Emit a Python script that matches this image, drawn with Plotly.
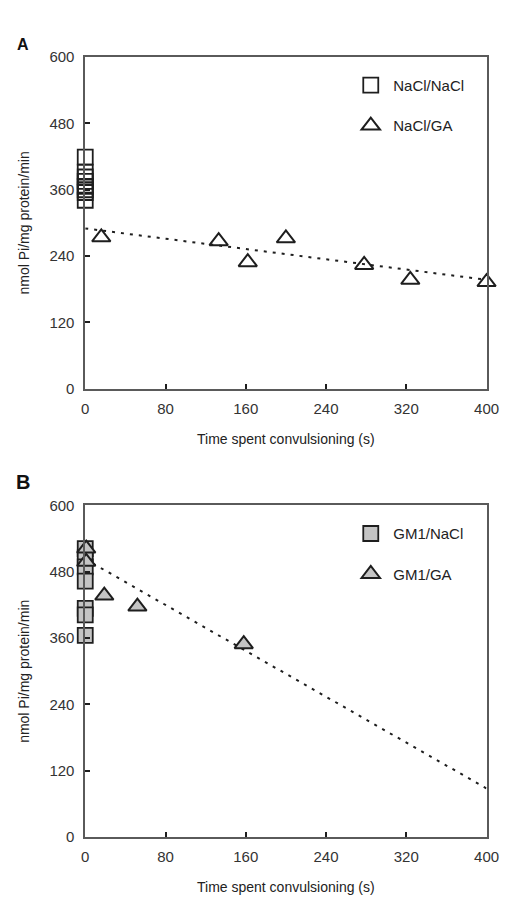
import plotly.graph_objects as go

# ---------------- data ----------------
x_ticks = [0, 80, 160, 240, 320, 400]
y_ticks = [0, 120, 240, 360, 480, 600]

# Panel A
a_nacl_x = [0, 0, 0, 0, 0, 0, 0, 0]
a_nacl_y = [419, 392, 383, 375, 366, 360, 355, 341]
a_ga_x = [16, 133, 162, 200, 278, 324, 400]
a_ga_y = [274, 267, 229, 272, 224, 197, 193]
a_fit_x = [0, 400]
a_fit_y = [290, 197]

# Panel B
b_nacl_x = [0, 0, 0, 0, 0, 0, 0]
b_nacl_y = [522, 505, 489, 463, 414, 402, 365]
b_ga_x = [1, 1, 19, 52, 158]
b_ga_y = [522, 498, 437, 417, 349]
b_fit_x = [0, 400]
b_fit_y = [503, 88]

x_title = "Time spent convulsioning (s)"
y_title = "nmol Pi/mg protein/min"

# ---------------- style ----------------
W, H = 516, 903
FONT = "Liberation Sans, Arial, sans-serif"
INK = "#1e1e1e"
AXC = "#5a5a5a"
GRAY = "#c4c4c4"
MS = 16

def px_x(p):
    return p / W

def px_y(p):
    return 1 - p / H

fig = go.Figure()

# Panel A traces
fig.add_trace(go.Scatter(x=a_fit_x, y=a_fit_y, mode="lines", showlegend=False,
                         line=dict(color=INK, width=2, dash="3px,6px"),
                         xaxis="x", yaxis="y"))
fig.add_trace(go.Scatter(x=a_nacl_x, y=a_nacl_y, mode="markers", name="NaCl/NaCl",
                         marker=dict(symbol="square-open", size=15, color=INK,
                                     line=dict(width=1.8, color=INK)),
                         cliponaxis=False, xaxis="x", yaxis="y",
                         legend="legend", legendgroup="a1"))
fig.add_trace(go.Scatter(x=a_ga_x, y=a_ga_y, mode="markers", name="NaCl/GA",
                         marker=dict(symbol="triangle-up-open", size=MS, color=INK,
                                     line=dict(width=2, color=INK)),
                         cliponaxis=False, xaxis="x", yaxis="y",
                         legend="legend", legendgroup="a2"))

# Panel B traces
fig.add_trace(go.Scatter(x=b_fit_x, y=b_fit_y, mode="lines", showlegend=False,
                         line=dict(color=INK, width=2, dash="3px,6px"),
                         xaxis="x2", yaxis="y2"))
fig.add_trace(go.Scatter(x=b_nacl_x, y=b_nacl_y, mode="markers", name="GM1/NaCl",
                         marker=dict(symbol="square", size=15, color=GRAY,
                                     line=dict(width=1.8, color=INK)),
                         cliponaxis=False, xaxis="x2", yaxis="y2",
                         legend="legend2", legendgroup="b1"))
fig.add_trace(go.Scatter(x=b_ga_x, y=b_ga_y, mode="markers", name="GM1/GA",
                         marker=dict(symbol="triangle-up", size=MS, color=GRAY,
                                     line=dict(width=2, color=INK)),
                         cliponaxis=False, xaxis="x2", yaxis="y2",
                         legend="legend2", legendgroup="b2"))

xdom = [px_x(84), px_x(499)]
ya_dom = [px_y(387), px_y(49)]
yb_dom = [px_y(844), px_y(506)]

tickfont = dict(family=FONT, size=15, color="#333333")
titlefont = dict(family=FONT, size=14, color="#222222")

def xaxis(anchor, dom):
    return dict(domain=dom, anchor=anchor, range=[0, 400], tickvals=x_ticks,
                ticktext=[str(v) for v in x_ticks],
                showgrid=False, zeroline=False, showline=True, linecolor=AXC,
                linewidth=1.6, mirror=True, ticks="inside", ticklen=5,
                tickwidth=1.6, tickcolor=INK, tickfont=tickfont,
                ticklabelstandoff=5)

def yaxis(anchor, dom):
    return dict(domain=dom, anchor=anchor, range=[0, 600], tickvals=y_ticks,
                ticktext=[str(v) for v in y_ticks],
                showgrid=False, zeroline=False, showline=True, linecolor=AXC,
                linewidth=1.6, mirror=True, ticks="inside", ticklen=5,
                tickwidth=1.6, tickcolor=INK, tickfont=tickfont,
                ticklabelstandoff=6,
                title=dict(text=y_title, font=titlefont, standoff=16))

legend_common = dict(font=dict(family=FONT, size=15, color="#222222"),
                     bgcolor="rgba(0,0,0,0)", borderwidth=0,
                     xanchor="left", yanchor="top",
                     tracegroupgap=18, traceorder="grouped",
                     itemwidth=35)

def title_ann(ypx):
    return dict(text=x_title, x=(px_x(84) + px_x(499)) / 2, y=px_y(ypx),
                xref="paper", yref="paper", xanchor="center", yanchor="middle",
                showarrow=False, font=titlefont)

fig.update_layout(
    width=W, height=H,
    margin=dict(l=0, r=0, t=0, b=0),
    paper_bgcolor="white", plot_bgcolor="white",
    showlegend=True,
    xaxis=xaxis("y", xdom), yaxis=yaxis("x", ya_dom),
    xaxis2=xaxis("y2", xdom), yaxis2=yaxis("x2", yb_dom),
    legend=dict(x=px_x(356), y=px_y(61), **legend_common),
    legend2=dict(x=px_x(356), y=px_y(518), **legend_common),
    annotations=[
        title_ann(438),
        title_ann(895),
        dict(text="<b>A</b>", x=px_x(11), y=px_y(36), xref="paper", yref="paper",
             xanchor="left", yanchor="middle", showarrow=False,
             font=dict(family=FONT, size=16, color="#111111")),
        dict(text="<b>B</b>", x=px_x(10), y=px_y(482), xref="paper", yref="paper",
             xanchor="left", yanchor="middle", showarrow=False,
             font=dict(family=FONT, size=20, color="#111111")),
    ],
)

fig.write_html("out.html")
